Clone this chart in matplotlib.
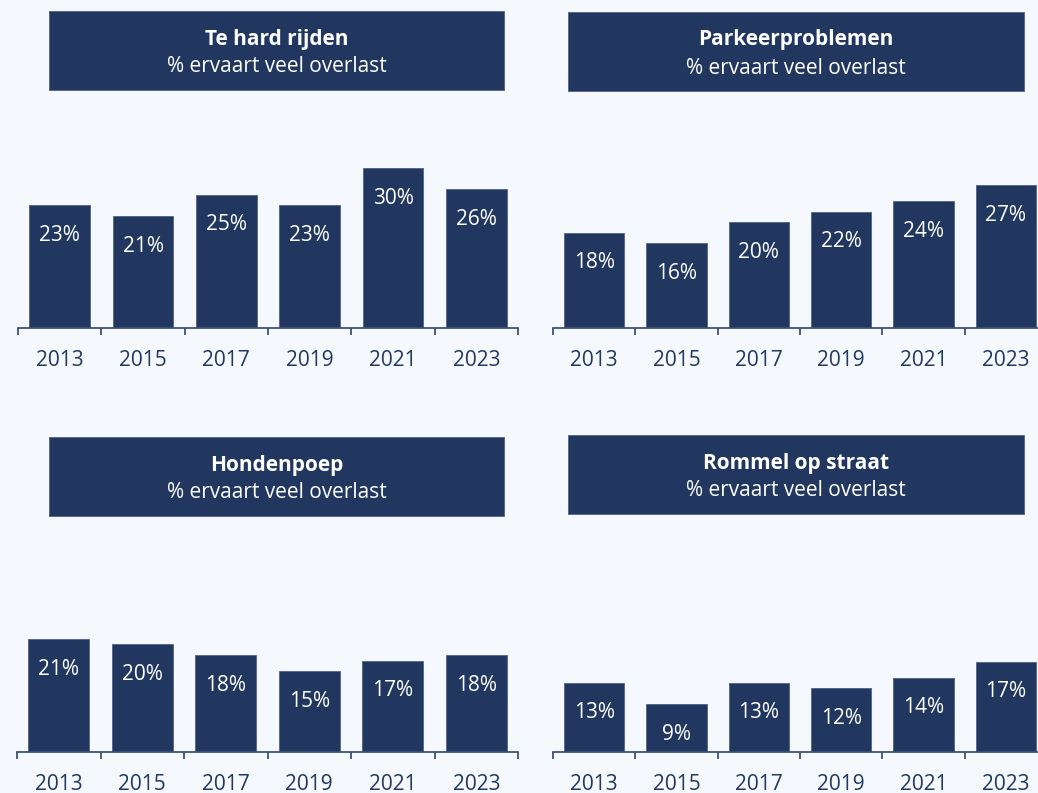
import matplotlib
matplotlib.use('Agg')
import matplotlib.pyplot as plt
from matplotlib.patches import Rectangle

plt.rcParams['font.family'] = ['Open Sans', 'DejaVu Sans']

years = ['2013', '2015', '2017', '2019', '2021', '2023']
te_hard_rijden = [23, 21, 25, 23, 30, 26]
parkeerproblemen = [18, 16, 20, 22, 24, 27]
hondenpoep = [21, 20, 18, 15, 17, 18]
rommel_op_straat = [13, 9, 13, 12, 14, 17]

titles = ['Te hard rijden', 'Parkeerproblemen', 'Hondenpoep', 'Rommel op straat']
subtitle = '% ervaart veel overlast'

navy = '#21375F'
axis_col = '#3E5275'
bg = '#F5F8FC'

W, H = 1038, 793
fig = plt.figure(figsize=(W / 100, H / 100), dpi=100, facecolor=bg)

# (x0, x1, baseline, px per %, title box x0, x1, y0, y1)
panels = [
    (te_hard_rijden, 18, 518, 328, 5.33, 49, 504, 11, 90),
    (parkeerproblemen, 553, 1047, 328, 5.29, 568, 1024, 12, 91),
    (hondenpoep, 17, 518, 752, 5.38, 49, 504, 437, 516),
    (rommel_op_straat, 553, 1047, 752, 5.32, 568, 1024, 435, 514),
]

ymax = 40
for (vals, x0, x1, base, scale, bx0, bx1, by0, by1), title in zip(panels, titles):
    hpx = ymax * scale
    ax = fig.add_axes([x0 / W, (H - base) / H, (x1 - x0) / W, hpx / H])
    ax.set_facecolor('none')
    xs = range(len(years))
    ax.bar(xs, vals, width=0.73, color=navy, edgecolor='#4F6388', linewidth=0.6, zorder=2)
    for x, v in zip(xs, vals):
        ax.annotate(f'{v}%', (x, v), xytext=(0, -30), textcoords='offset pixels',
                    ha='center', va='center', color='white', fontsize=15)
    ax.set_xlim(-0.5, len(years) - 0.5)
    ax.set_ylim(0, ymax)
    for s in ['top', 'right', 'left']:
        ax.spines[s].set_visible(False)
    ax.spines['bottom'].set_color(axis_col)
    ax.spines['bottom'].set_linewidth(1.3)
    ax.set_yticks([])
    ax.set_xticks(list(xs))
    ax.set_xticklabels(years, fontsize=15, color='#1F3864')
    ax.tick_params(axis='x', which='major', length=0, pad=15.5)
    ax.set_xticks([i - 0.5 for i in range(len(years) + 1)], minor=True)
    ax.tick_params(axis='x', which='minor', length=5, width=1.3, color=axis_col)

    fig.patches.append(Rectangle((bx0 / W, (H - by1) / H), (bx1 - bx0) / W, (by1 - by0) / H,
                                 transform=fig.transFigure, facecolor=navy,
                                 edgecolor='#4F6388', linewidth=0.6))
    cx = (bx0 + bx1) / 2 / W
    fig.text(cx, (H - (by0 + 28)) / H, title, ha='center', va='center',
             color='white', fontsize=15, fontweight='bold')
    fig.text(cx, (H - (by0 + 56)) / H, subtitle, ha='center', va='center',
             color='white', fontsize=15)

fig.savefig('out.png', dpi=100, facecolor=bg)
